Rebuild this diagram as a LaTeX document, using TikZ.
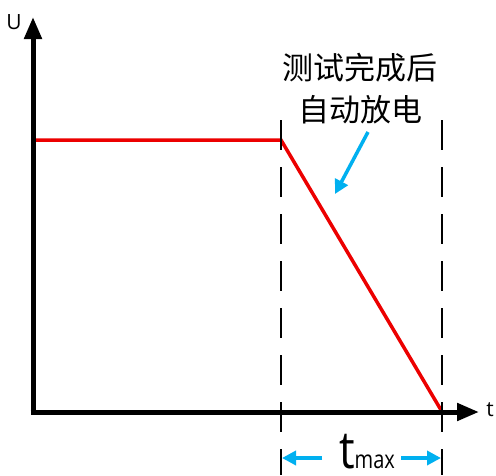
\documentclass[tikz,border=0pt]{standalone}
\usepackage{fontspec}
\setmainfont{Open Sans}
\newfontfamily\cjk{Noto Sans CJK SC}
\usetikzlibrary{arrows.meta}
\definecolor{cyanblue}{RGB}{0,176,240}
\definecolor{redline}{RGB}{236,0,0}
\begin{document}
\begin{tikzpicture}[x=1pt,y=-1pt,
  axis/.style={line width=5pt,-{Triangle[length=22pt,width=17pt]}},
  sig/.style={line width=3.5pt,redline,line join=miter},
  guide/.style={line width=1.4pt,dash pattern=on 30pt off 17pt},
  bluearr/.style={line width=3.5pt,cyanblue,-{Triangle[length=14pt,width=14pt]}},
  lbl/.style={inner sep=0pt,font=\fontsize{21}{24}\selectfont}]
\useasboundingbox (0,0) rectangle (496,475);
\fill[white] (0,0) rectangle (496,475);
\coordinate (O) at (33,412);
\coordinate (ytop) at (33,17);
\coordinate (xend) at (479,412);
\coordinate (s0) at (33,140);
\coordinate (s1) at (281,140);
\coordinate (s2) at (441,410);
\draw[sig] (s0) -- (s1) -- (s2);
\draw[axis] (33,414.5) -- (ytop);
\draw[axis] (30.5,412) -- (xend);
\coordinate (d1a) at (281,120);
\coordinate (d1b) at (281,475);
\coordinate (d2a) at (442,120);
\coordinate (d2b) at (442,475);
\draw[guide] (d1a) -- (d1b);
\draw[guide] (d2a) -- (d2b);
\node[lbl] (U) at (14,22) {U};
\node[lbl] (t) at (490,410) {t};
\node[inner sep=0pt,align=center,font=\cjk\fontsize{31}{42}\selectfont] (note) at (360,89) {测试完成后\\自动放电};
\coordinate (ba) at (368,132);
\coordinate (bb) at (335,194);
\draw[bluearr] (ba) -- (bb);
\node[inner sep=0pt,anchor=base,text depth=0pt] (tmax) at (367,468) {\scalebox{0.85}[1]{\fontsize{52}{52}\selectfont t}\scalebox{0.8}[1]{\fontsize{25}{25}\selectfont max}};
\coordinate (la) at (322,458);
\coordinate (lb) at (282,458);
\coordinate (ra) at (401,458);
\coordinate (rb) at (441,458);
\draw[bluearr] (la) -- (lb);
\draw[bluearr] (ra) -- (rb);
\end{tikzpicture}
\end{document}
